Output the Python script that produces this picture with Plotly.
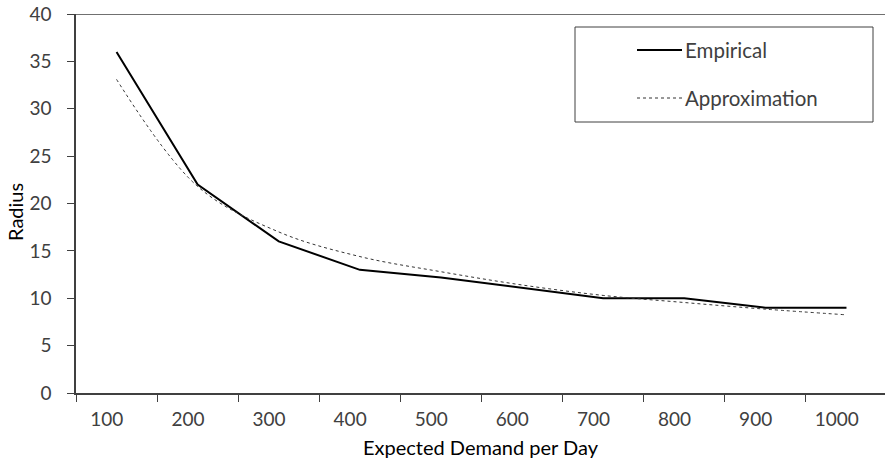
import plotly.graph_objects as go

demand = [100, 200, 300, 400, 500, 600, 700, 800, 900, 1000]
empirical = [36, 22, 16, 13, 12.2, 11.1, 10, 10, 9, 9]
approximation = [33.1, 21.8, 17.0, 14.4, 12.8, 11.4, 10.3, 9.55, 8.85, 8.25]
tick_labels = ["100", "200", "300", "400", "500", "600", "700", "800", "900", "1000"]
y_ticks = [0, 5, 10, 15, 20, 25, 30, 35, 40]

W, H = 885, 461
L, T = 76, 14
B = H - 393
R = 0
PW = W - L - R
PH = H - T - B
FONT = "Lato"
AX = "#404040"


def px(xp):
    return (xp - L) / PW


def py(yp):
    return (H - B - yp) / PH


fig = go.Figure()
fig.add_trace(go.Scatter(x=demand, y=empirical, mode="lines", name="Empirical",
                         line=dict(color="black", width=2)))
fig.add_trace(go.Scatter(x=demand, y=approximation, mode="lines", name="Approximation",
                         line=dict(color="#333333", width=1, dash="dot", shape="spline", smoothing=1.0)))

fig.update_layout(
    width=W, height=H,
    margin=dict(l=L, r=R, t=T, b=B, autoexpand=False),
    paper_bgcolor="white", plot_bgcolor="white",
    showlegend=False,
    font=dict(family=FONT, size=19, color=AX),
)
fig.update_xaxes(
    range=[50, 1047.5],
    automargin=False,
    tickmode="array",
    tickvals=[d - 12 for d in demand],
    ticktext=tick_labels,
    ticks="outside", ticklen=8, tickcolor="rgba(0,0,0,0)",
    showline=True, linecolor=AX, linewidth=1.5,
    showgrid=False, zeroline=False,
    ticklabeloverflow="allow",
    tickfont=dict(family=FONT, size=19, color=AX),
    minor=dict(tickmode="array", tickvals=[d - 50 for d in demand] + [1050],
               ticks="outside", ticklen=7, tickcolor=AX, tickwidth=1, showgrid=False),
)
fig.update_yaxes(
    range=[0, 40],
    automargin=False,
    tickmode="array", tickvals=y_ticks,
    ticks="outside", ticklen=7, tickcolor=AX, tickwidth=1,
    showline=True, linecolor=AX, linewidth=1.5,
    showgrid=False, zeroline=False,
    ticklabelstandoff=12,
    ticklabeloverflow="allow",
    tickfont=dict(family=FONT, size=19, color=AX),
)

# top border of plot area
fig.add_shape(type="line", xref="paper", yref="y", x0=0, x1=1, y0=40, y1=40,
              line=dict(color=AX, width=1.5))

# axis titles
fig.add_annotation(text="Expected Demand per Day", xref="paper", yref="paper",
                   x=px(481), y=py(447), xanchor="center", yanchor="middle",
                   showarrow=False, font=dict(family=FONT, size=20, color="black"))
fig.add_annotation(text="Radius", xref="paper", yref="paper",
                   x=px(15), y=py(212), xanchor="center", yanchor="middle", textangle=-90,
                   showarrow=False, borderpad=0,
                   font=dict(family=FONT, size=20, color="black"))

# legend box
fig.add_shape(type="rect", xref="paper", yref="paper",
              x0=px(575), x1=px(873), y0=py(122), y1=py(27),
              line=dict(color=AX, width=1), fillcolor="white")
fig.add_shape(type="line", xref="paper", yref="paper",
              x0=px(637), x1=px(682), y0=py(50), y1=py(50),
              line=dict(color="black", width=2))
fig.add_shape(type="line", xref="paper", yref="paper",
              x0=px(637), x1=px(682), y0=py(98), y1=py(98),
              line=dict(color="#333333", width=1, dash="dot"))
fig.add_annotation(text="Empirical", xref="paper", yref="paper",
                   x=px(683), y=py(50), xanchor="left", yanchor="middle",
                   showarrow=False, font=dict(family=FONT, size=20.5, color=AX))
fig.add_annotation(text="Approximation", xref="paper", yref="paper",
                   x=px(683), y=py(98), xanchor="left", yanchor="middle",
                   showarrow=False, font=dict(family=FONT, size=20.5, color=AX))

# remove the browser's default 8px page margin so the figure fills the window
fig.write_html("out.html", config={"displayModeBar": False},
               post_script="document.body.style.margin='0';")
